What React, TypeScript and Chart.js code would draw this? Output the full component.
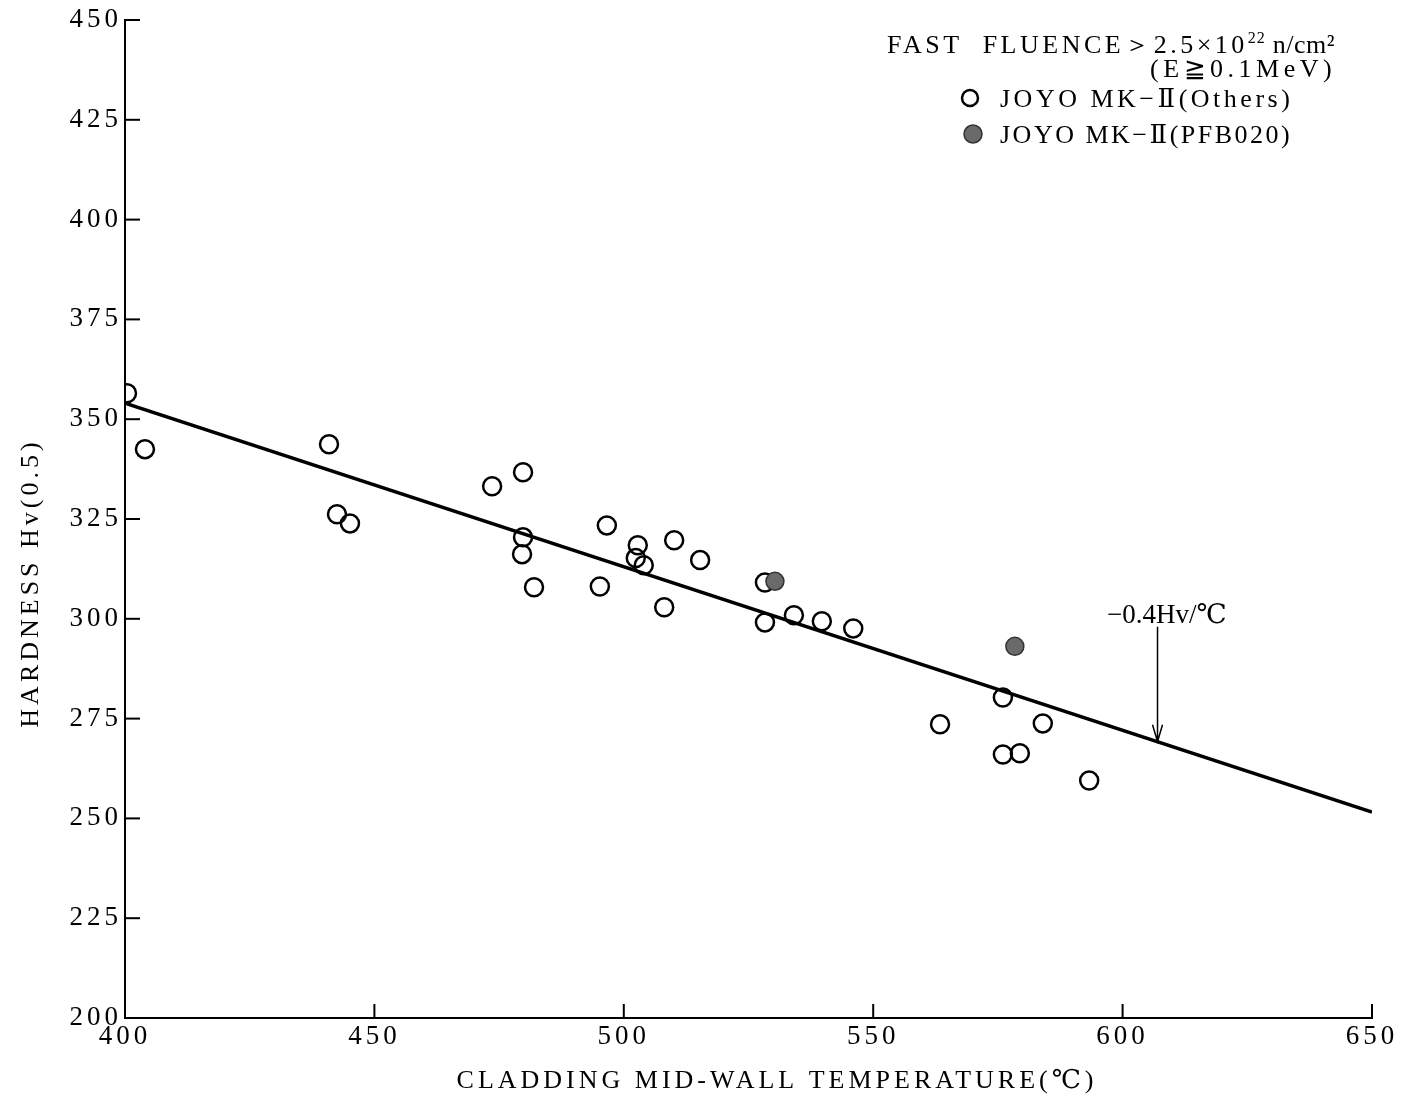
import React, { useEffect, useRef } from "react";
import { Chart, registerables } from "chart.js";
Chart.register(...registerables);

const othersTemp = [400.4, 404.0, 440.9, 442.5, 445.1, 473.6, 479.8, 479.8, 479.6, 482.0, 495.2, 496.6, 502.8, 502.4, 504.0, 508.1, 510.1, 515.3, 528.3, 528.3, 534.1, 539.7, 546.0, 563.4, 576.0, 576.0, 579.4, 584.0, 593.3];
const othersHv = [356.5, 342.5, 343.7, 326.2, 323.9, 333.2, 336.7, 320.4, 316.2, 307.9, 308.1, 323.4, 318.4, 315.2, 313.4, 302.9, 319.7, 314.7, 309.1, 299.1, 300.9, 299.4, 297.6, 273.6, 280.3, 266.0, 266.3, 273.8, 259.5];
const pfbTemp = [530.3, 578.4];
const pfbHv = [309.4, 293.1];
const fitTemp = [400, 650];
const fitHv = [354.0, 251.6];
const xTicks = [400, 450, 500, 550, 600, 650];
const yTicks = [200, 225, 250, 275, 300, 325, 350, 375, 400, 425, 450];
const arrowTemp = 607;
const arrowLabel = "−0.4Hv/℃";
const xTitle = "CLADDING MID-WALL TEMPERATURE(℃)";
const yTitle = "HARDNESS Hv(0.5)";
const legendLine1 = "FAST  FLUENCE＞2.5×10";
const legendSup = "22";
const legendUnit = " n/cm²";
const legendLine2 = "(E≧0.1MeV)";
const legendOthers = "JOYO MK−Ⅱ(Others)";
const legendPfb = "JOYO MK−Ⅱ(PFB020)";

const FONT = '"Liberation Serif", "DejaVu Serif", serif';

const deco = {
  id: "deco",
  beforeDraw(chart: any) {
    chart.ctx.letterSpacing = "4px";
  },
  afterDatasetsDraw(chart: any) {
    const { ctx, chartArea } = chart;
    const x = chart.scales.x;
    const y = chart.scales.y;
    ctx.save();
    ctx.strokeStyle = "#000";
    ctx.fillStyle = "#000";
    ctx.lineWidth = 2;
    yTicks.forEach((v) => {
      const py = y.getPixelForValue(v);
      ctx.beginPath();
      ctx.moveTo(chartArea.left, py);
      ctx.lineTo(chartArea.left + 15, py);
      ctx.stroke();
    });
    xTicks.forEach((v) => {
      const px = x.getPixelForValue(v);
      ctx.beginPath();
      ctx.moveTo(px, chartArea.bottom);
      ctx.lineTo(px, chartArea.bottom - 14);
      ctx.stroke();
    });
    // arrow annotation
    const lineHv = fitHv[0] + ((fitHv[1] - fitHv[0]) * (arrowTemp - fitTemp[0])) / (fitTemp[1] - fitTemp[0]);
    const ax = x.getPixelForValue(arrowTemp);
    const ay = y.getPixelForValue(lineHv);
    ctx.lineWidth = 1.5;
    ctx.beginPath();
    ctx.moveTo(ax, ay - 115);
    ctx.lineTo(ax, ay);
    ctx.moveTo(ax - 5, ay - 17);
    ctx.lineTo(ax, ay);
    ctx.lineTo(ax + 5, ay - 17);
    ctx.stroke();
    ctx.letterSpacing = "0px";
    ctx.font = `27px ${FONT}`;
    ctx.textAlign = "left";
    ctx.textBaseline = "alphabetic";
    ctx.fillText(arrowLabel, 1107, ay - 119);

    // axis titles
    ctx.font = `26px ${FONT}`;
    ctx.letterSpacing = "4px";
    ctx.textAlign = "center";
    ctx.textBaseline = "middle";
    ctx.fillText(xTitle, 777, 1081);
    ctx.save();
    ctx.translate(31, 583);
    ctx.rotate(-Math.PI / 2);
    ctx.letterSpacing = "4px";
    ctx.fillText(yTitle, 0, 0);
    ctx.restore();

    // legend
    ctx.textBaseline = "alphabetic";
    ctx.letterSpacing = "3.5px";
    ctx.textAlign = "left";
    ctx.font = `26px ${FONT}`;
    let tx = 887;
    ctx.fillText(legendLine1, tx, 53);
    tx += ctx.measureText(legendLine1).width;
    ctx.font = `16px ${FONT}`;
    ctx.letterSpacing = "1px";
    ctx.fillText(legendSup, tx, 43);
    tx += ctx.measureText(legendSup).width;
    ctx.font = `26px ${FONT}`;
    ctx.letterSpacing = "0.5px";
    ctx.fillText(legendUnit, tx, 53);
    ctx.letterSpacing = "4.5px";
    ctx.fillText(legendLine2, 1150, 77);
    ctx.letterSpacing = "3.5px";
    ctx.fillText(legendOthers, 1000, 107);
    ctx.letterSpacing = "2.5px";
    ctx.fillText(legendPfb, 1000, 143);
    ctx.lineWidth = 2.5;
    ctx.beginPath();
    ctx.arc(970, 98, 8, 0, Math.PI * 2);
    ctx.stroke();
    ctx.beginPath();
    ctx.arc(973, 134, 9, 0, Math.PI * 2);
    ctx.fillStyle = "#6a6a6a";
    ctx.fill();
    ctx.strokeStyle = "#333";
    ctx.lineWidth = 1.5;
    ctx.stroke();
    ctx.restore();
  },
};

export default function App() {
  const ref = useRef<HTMLCanvasElement>(null);
  useEffect(() => {
    document.body.style.margin = "0";
    const chart = new Chart(ref.current!, {
      type: "scatter",
      data: {
        datasets: [
          {
            type: "line",
            data: fitTemp.map((t, i) => ({ x: t, y: fitHv[i] })),
            borderColor: "#000",
            borderWidth: 3.5,
            pointRadius: 0,
            order: 3,
          } as any,
          {
            data: othersTemp.map((t, i) => ({ x: t, y: othersHv[i] })),
            pointRadius: 9,
            borderWidth: 2.5,
            borderColor: "#000",
            backgroundColor: "rgba(0,0,0,0)",
            order: 2,
          },
          {
            data: pfbTemp.map((t, i) => ({ x: t, y: pfbHv[i] })),
            pointRadius: 9,
            borderWidth: 1.5,
            borderColor: "#333",
            backgroundColor: "#6a6a6a",
            order: 1,
          },
        ],
      },
      options: {
        animation: false,
        responsive: false,
        layout: { padding: { top: 20, right: 33, left: 0, bottom: 0 }, autoPadding: false } as any,
        plugins: { legend: { display: false }, tooltip: { enabled: false } },
        scales: {
          x: {
            type: "linear",
            min: 400,
            max: 650,
            afterFit: (s: any) => {
              s.height = 83;
            },
            afterBuildTicks: (s: any) => {
              s.ticks = xTicks.map((v) => ({ value: v }));
            },
            ticks: { color: "#000", font: { family: FONT, size: 27 }, padding: 3 },
            grid: { drawOnChartArea: false, drawTicks: false },
            border: { color: "#000", width: 2 },
          },
          y: {
            type: "linear",
            min: 200,
            max: 450,
            afterFit: (s: any) => {
              s.width = 125;
            },
            afterBuildTicks: (s: any) => {
              s.ticks = yTicks.map((v) => ({ value: v }));
            },
            ticks: { color: "#000", font: { family: FONT, size: 27 }, padding: 3 },
            grid: { drawOnChartArea: false, drawTicks: false },
            border: { color: "#000", width: 2 },
          },
        },
      },
      plugins: [deco],
    });
    return () => chart.destroy();
  }, []);
  return (
    <div style={{ position: "absolute", left: 0, top: 0, width: 1405, height: 1101, background: "#fff" }}>
      <canvas ref={ref} width={1405} height={1101} />
    </div>
  );
}
